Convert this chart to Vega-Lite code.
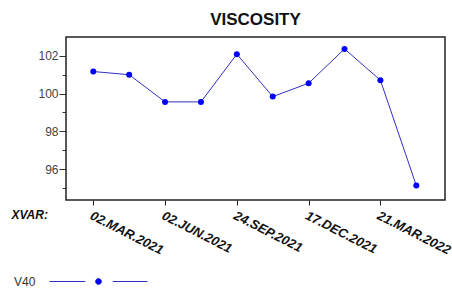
{
  "$schema": "https://vega.github.io/schema/vega-lite/v6.json",
  "autosize": {"type": "none"},
  "width": 379,
  "height": 163,
  "padding": {"left": 66, "top": 37, "right": 7, "bottom": 95},
  "background": "white",
  "title": {"text": "VISCOSITY", "fontSize": 17, "font": "Liberation Sans", "fontWeight": "bold", "color": "#111", "offset": 8, "anchor": "middle"},
  "config": {
    "view": {"stroke": "#222", "strokeWidth": 1.5},
    "font": "Liberation Sans"
  },
  "data": {"values": [
    {"obs": 1, "V40": 101.17, "series": "V40"},
    {"obs": 2, "V40": 101.0, "series": "V40"},
    {"obs": 3, "V40": 99.56, "series": "V40"},
    {"obs": 4, "V40": 99.56, "series": "V40"},
    {"obs": 5, "V40": 102.09, "series": "V40"},
    {"obs": 6, "V40": 99.84, "series": "V40"},
    {"obs": 7, "V40": 100.55, "series": "V40"},
    {"obs": 8, "V40": 102.37, "series": "V40"},
    {"obs": 9, "V40": 100.71, "series": "V40"},
    {"obs": 10, "V40": 95.13, "series": "V40"}
  ]},
  "resolve": {"axis": {"y": "independent"}},
  "layer": [
    {"mark": {"type": "line", "strokeWidth": 1},
     "encoding": {
      "x": {"field": "obs", "type": "quantitative",
        "scale": {"domain": [0.24, 10.8], "nice": false, "zero": false},
        "axis": {"values": [1, 3, 5, 7, 9], "grid": false, "domain": false,
          "tickColor": "#222", "tickSize": 5, "labelPadding": 4,
          "labelExpr": "datum.value == 1 ? '02.MAR.2021' : datum.value == 3 ? '02.JUN.2021' : datum.value == 5 ? '24.SEP.2021' : datum.value == 7 ? '17.DEC.2021' : '21.MAR.2022'",
          "labelAngle": 27, "labelAlign": "left", "labelBaseline": "top",
          "labelFontSize": 13, "labelFontWeight": "bold", "labelFontStyle": "italic", "labelColor": "#111",
          "labelOverlap": false, "labelFlush": false, "labelBound": false,
          "title": "XVAR:", "titleFontSize": 12, "titleFontWeight": "bold", "titleFontStyle": "italic", "titleColor": "#111",
          "titleX": -55, "titleY": 14, "titleAlign": "left", "titleBaseline": "middle", "titleAngle": 0}},
      "y": {"field": "V40", "type": "quantitative",
        "scale": {"domain": [94.36, 103.0], "nice": false, "zero": false},
        "axis": {"orient": "left", "values": [96, 98, 100, 102], "grid": false, "domain": false,
          "tickColor": "#333", "tickSize": 7, "labelPadding": 1,
          "labelFontSize": 12, "labelColor": "#444", "title": null}},
      "color": {"field": "series", "type": "nominal",
        "scale": {"range": ["#3030c0"]},
        "legend": {"orient": "none", "legendX": -17, "legendY": 195,
          "title": null,
          "labelExpr": "'V40'", "labelOffset": -134, "labelFontSize": 12, "labelColor": "#333", "labelAlign": "left", "labelBaseline": "middle",
          "symbolType": "M-1,0H-0.27M0.29,0H1M0.06,0A0.06,0.06 0 1,1 -0.06,0A0.06,0.06 0 1,1 0.06,0Z",
          "symbolSize": 9604, "symbolStrokeWidth": 1,
          "encode": {"symbols": {"update": {"fill": {"value": "#0000ff"}, "stroke": {"value": "#3030c0"}, "strokeWidth": {"value": 1}}}}}}
     }},
    {"mark": {"type": "point", "filled": true, "size": 36, "opacity": 1, "color": "#0000ff"},
     "encoding": {
      "x": {"field": "obs", "type": "quantitative"},
      "y": {"field": "V40", "type": "quantitative",
        "axis": {"orient": "left", "values": [95, 97, 99, 101], "grid": false, "domain": false, "labels": false,
          "tickColor": "#333", "tickSize": 4, "title": null}}
     }}
  ]
}
